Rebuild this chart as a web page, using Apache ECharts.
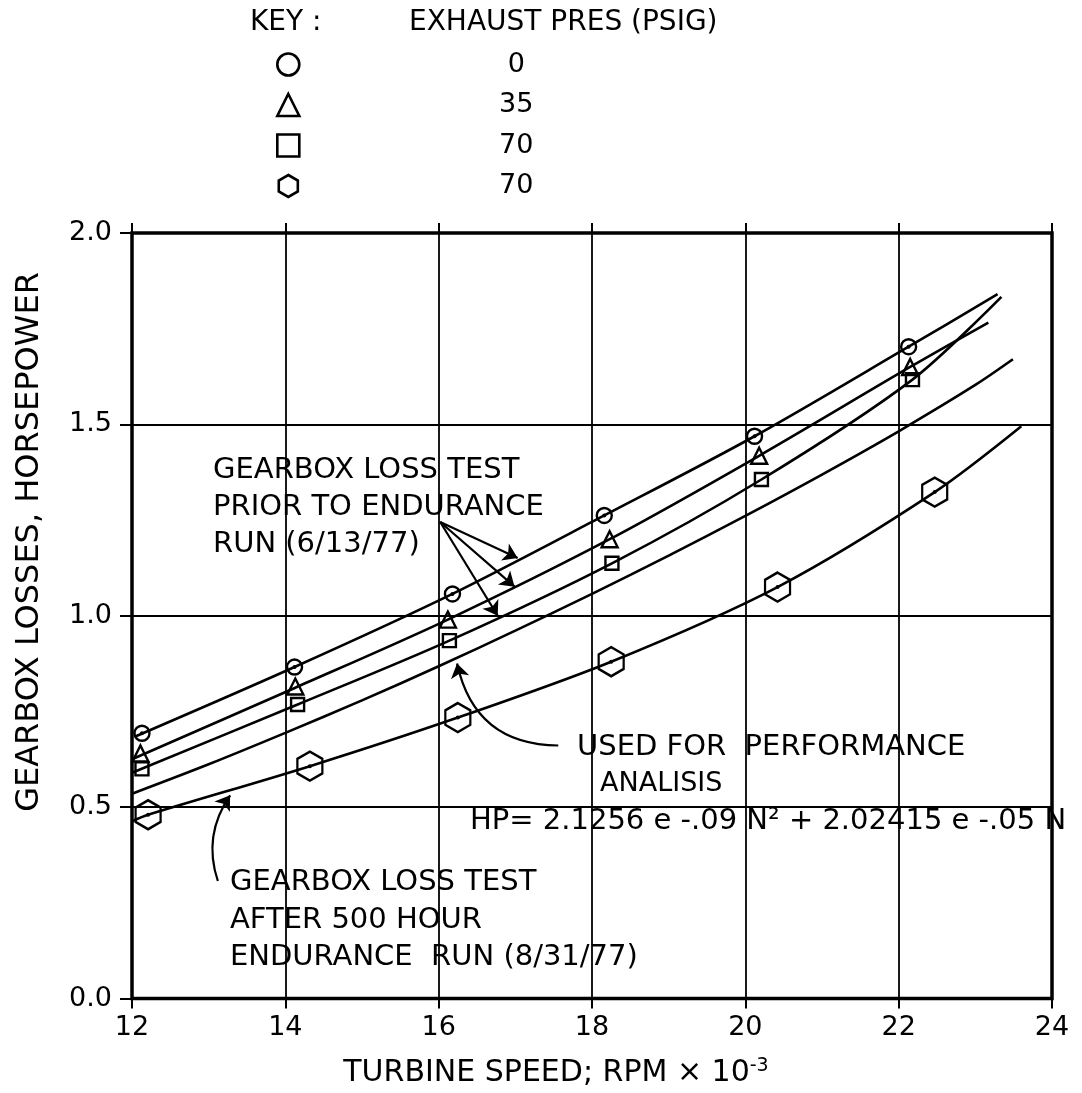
<!DOCTYPE html>
<html>
<head>
<meta charset="utf-8">
<script src="https://cdn.jsdelivr.net/npm/echarts@6/dist/echarts.min.js"></script>
<style>
  html, body { margin: 0; padding: 0; background: #fff; }
  #chart { width: 1082px; height: 1093px; }
</style>
</head>
<body>
<div id="chart"></div>
<script>
var circleSpeed = [12.13, 14.12, 16.18, 18.16, 20.12, 22.13];
var circleLoss  = [0.693, 0.866, 1.057, 1.262, 1.469, 1.703];
var triSpeed = [12.11, 14.13, 16.12, 18.23, 20.18, 22.15];
var triLoss  = [0.64, 0.815, 0.99, 1.20, 1.418, 1.65];
var sqSpeed = [12.13, 14.16, 16.14, 18.26, 20.21, 22.18];
var sqLoss  = [0.60, 0.768, 0.935, 1.137, 1.356, 1.617];
var hexSpeed = [12.21, 14.32, 16.25, 18.25, 20.42, 22.47];
var hexLoss  = [0.48, 0.607, 0.734, 0.88, 1.075, 1.323];

// faired curves
var curveCircleX = [12.05, 14.12, 16.18, 18.16, 20.12, 22.13, 23.29];
var curveCircleY = [0.685, 0.866, 1.057, 1.262, 1.469, 1.703, 1.84];
var curveTriX = [12.0, 14.13, 16.12, 18.23, 20.18, 22.15, 23.17];
var curveTriY = [0.625, 0.812, 0.99, 1.20, 1.418, 1.65, 1.766];
var curveSqX = [12.0, 14.16, 16.14, 18.26, 20.21, 22.18, 23.34];
var curveSqY = [0.59, 0.768, 0.935, 1.137, 1.356, 1.617, 1.833];
var curvePerfX = [12.0, 13, 14, 15, 16, 17, 18, 19, 20, 21, 22, 23, 23.49];
var curvePerfY = [0.535, 0.612, 0.694, 0.779, 0.868, 0.961, 1.057, 1.157, 1.261, 1.369, 1.482, 1.603, 1.67];
var curveHexX = [12.0, 12.21, 14.32, 16.25, 18.25, 20.42, 22.47, 23.6];
var curveHexY = [0.463, 0.48, 0.607, 0.734, 0.88, 1.075, 1.323, 1.495];

var keyNames  = ['p0', 'p35', 'p70', 'p70b'];
var keyLabels = ['0', '35', '70', '70'];

var FONT = 'DejaVu Sans';
var hexPath = 'path://M50,0 L93.3,25 L93.3,75 L50,100 L6.7,75 L6.7,25 Z';

function pairs(xs, ys) {
    var out = [];
    for (var i = 0; i < xs.length; i++) out.push([xs[i], ys[i]]);
    return out;
}

function curve(name, xs, ys) {
    return {
        name: name, type: 'line', data: pairs(xs, ys),
        smooth: 0.3, showSymbol: false, silent: true,
        lineStyle: { color: '#000', width: 2.6 }, z: 3
    };
}

function marks(name, xs, ys, symbol, size) {
    return {
        name: name, type: 'scatter', data: pairs(xs, ys),
        symbol: symbol, symbolSize: size,
        itemStyle: { color: 'rgba(255,255,255,0)', borderColor: '#000', borderWidth: 2.4, opacity: 1 },
        z: 5
    };
}

function txt(left, top, text, size, lh) {
    return { type: 'text', left: left, top: top,
        style: { text: text, font: size + 'px ' + FONT, fill: '#000', lineHeight: lh || size } };
}

var myChart = echarts.init(document.getElementById('chart'));

var option = {
    backgroundColor: '#fff',
    animation: false,
    grid: {
        left: 132, right: 30, top: 233, bottom: 92,
        show: true, borderColor: '#000', borderWidth: 3.5
    },
    legend: {
        data: keyNames,
        orient: 'vertical',
        left: 271, top: 46,
        itemWidth: 22, itemHeight: 22, itemGap: 13.5,
        selectedMode: false,
        itemStyle: { borderWidth: 2.6 },
        formatter: function (name) {
            return '{v|' + keyLabels[keyNames.indexOf(name)] + '}';
        },
        textStyle: {
            fontFamily: FONT, fontSize: 27, color: '#000',
            rich: { v: { width: 424, lineHeight: 22, align: 'center', fontFamily: FONT, fontSize: 27, color: '#000' } }
        }
    },
    xAxis: [{
        type: 'value', min: 12, max: 24, interval: 2,
        name: 'TURBINE SPEED; RPM × 10{s|-3}',
        nameLocation: 'middle', nameGap: 58,
        nameTextStyle: {
            fontFamily: FONT, fontSize: 30, color: '#000', padding: [0, 72, 0, 0],
            rich: { s: { fontFamily: FONT, fontSize: 19, color: '#000', verticalAlign: 'top', padding: [0, 0, 14, 0] } }
        },
        axisLine: { show: false },
        axisTick: { show: true, length: 10, lineStyle: { color: '#000', width: 2 } },
        axisLabel: { margin: 16, fontFamily: FONT, fontSize: 27, color: '#000' },
        splitLine: { show: true, lineStyle: { color: '#000', width: 1.8 } }
    }, {
        type: 'value', min: 12, max: 24, interval: 2, position: 'top',
        axisLine: { show: false },
        axisTick: { show: true, length: 10, lineStyle: { color: '#000', width: 2 } },
        axisLabel: { show: false },
        splitLine: { show: false }
    }],
    yAxis: {
        type: 'value', min: 0, max: 2, interval: 0.5,
        axisLine: { show: false },
        axisTick: { show: true, length: 12, lineStyle: { color: '#000', width: 2 } },
        axisLabel: {
            margin: 20, fontFamily: FONT, fontSize: 27, color: '#000',
            formatter: function (v) { return v.toFixed(1); }
        },
        splitLine: { show: true, lineStyle: { color: '#000', width: 1.8 } }
    },
    graphic: [
        txt(250, 9, 'KEY :', 28),
        txt(409, 9, 'EXHAUST PRES (PSIG)', 28),
        { type: 'text', x: 30, y: 542, rotation: Math.PI / 2,
          style: { text: 'GEARBOX LOSSES, HORSEPOWER', font: '32px ' + FONT, fill: '#000', align: 'center', verticalAlign: 'middle' } },
        txt(213, 452, 'GEARBOX LOSS TEST\nPRIOR TO ENDURANCE\nRUN (6/13/77)', 29, 37),
        txt(577, 733, 'USED FOR  PERFORMANCE', 29),
        txt(600, 770, 'ANALISIS', 27),
        txt(470, 807, 'HP= 2.1256 e -.09 N² + 2.02415 e -.05 N', 29),
        txt(230, 864, 'GEARBOX LOSS TEST\nAFTER 500 HOUR\nENDURANCE  RUN (8/31/77)', 29, 37.5)
    ],
    series: [
        curve('c0', curveCircleX, curveCircleY),
        curve('c35', curveTriX, curveTriY),
        curve('c70', curveSqX, curveSqY),
        curve('perf', curvePerfX, curvePerfY),
        curve('c70b', curveHexX, curveHexY),
        marks('p0', circleSpeed, circleLoss, 'circle', 15),
        marks('p35', triSpeed, triLoss, 'triangle', 16),
        marks('p70', sqSpeed, sqLoss, 'rect', 13),
        marks('p70b', hexSpeed, hexLoss, hexPath, [25, 29]),
        {
            name: 'dots', type: 'scatter', symbol: 'circle', symbolSize: 4,
            data: pairs(hexSpeed, hexLoss).concat(pairs(circleSpeed, circleLoss)),
            itemStyle: { color: '#000', opacity: 1 }, z: 6, silent: true
        },
        {
            // leader arrows from the notes to the curves
            name: 'arrows', type: 'lines', coordinateSystem: 'cartesian2d',
            silent: true, z: 4,
            symbol: ['none', 'arrow'], symbolSize: [10, 14],
            lineStyle: { color: '#000', width: 2.2, opacity: 1, curveness: 0 },
            data: [
                { coords: [[16.02, 1.245], [17.03, 1.151]] },
                { coords: [[16.02, 1.245], [16.99, 1.076]] },
                { coords: [[16.02, 1.245], [16.77, 1.0]] },
                { coords: [[17.56, 0.661], [16.24, 0.875]], lineStyle: { curveness: 0.4 } },
                { coords: [[13.12, 0.307], [13.28, 0.531]], lineStyle: { curveness: 0.25 } }
            ]
        }
    ]
};

myChart.setOption(option);
</script>
</body>
</html>
